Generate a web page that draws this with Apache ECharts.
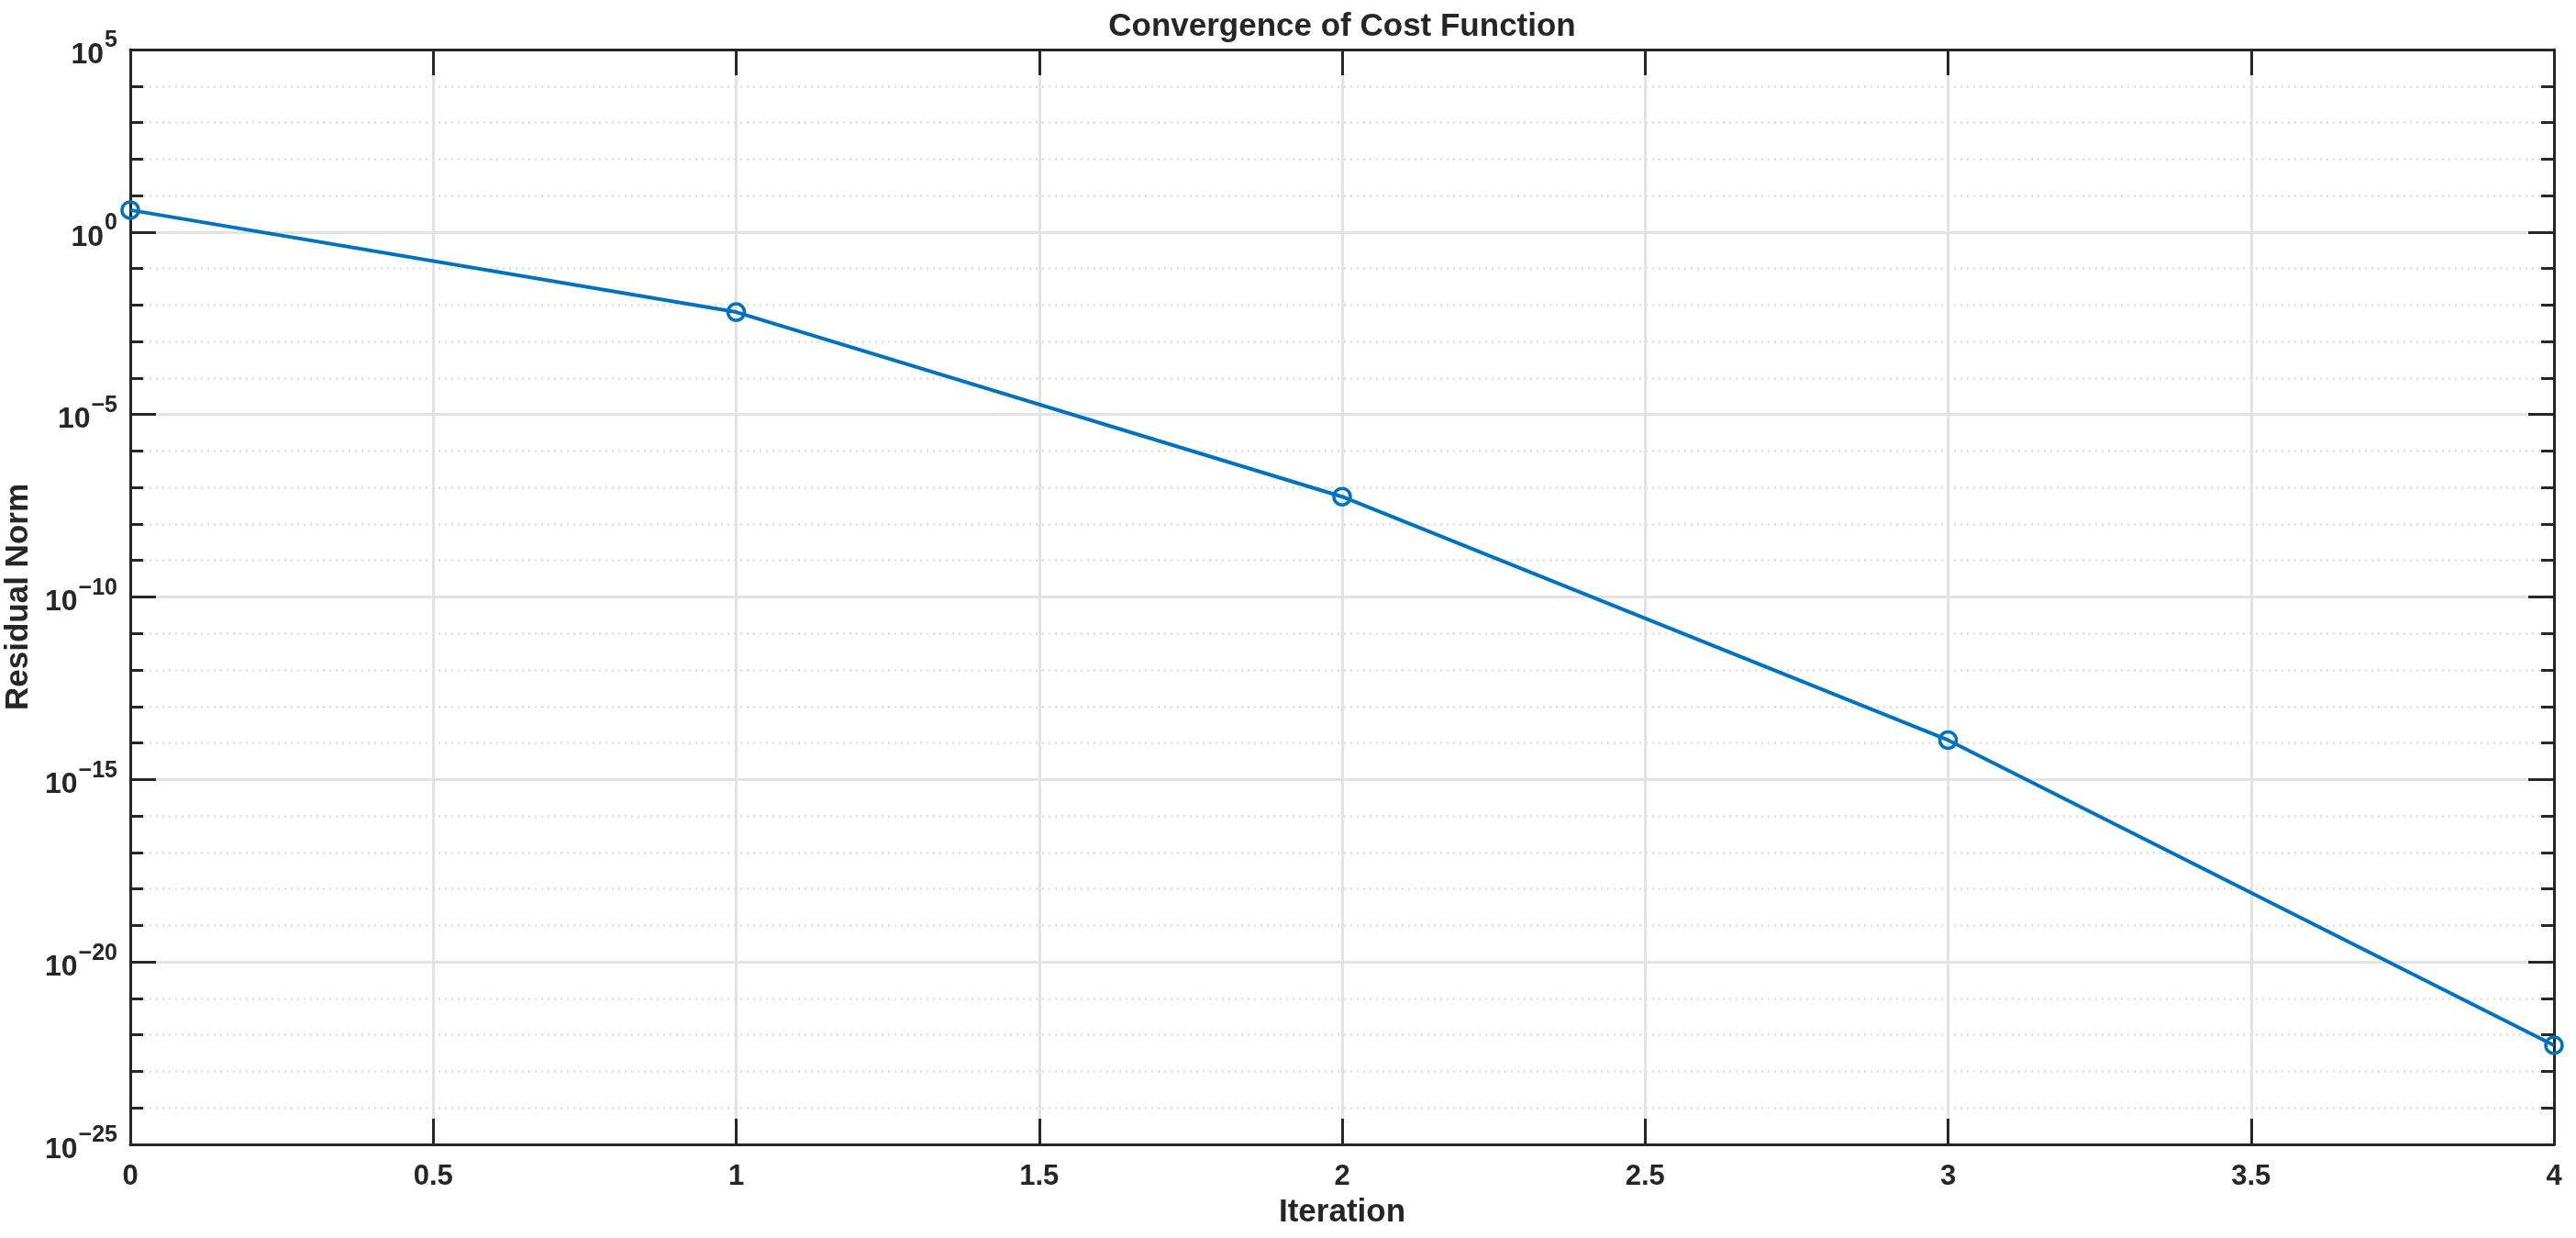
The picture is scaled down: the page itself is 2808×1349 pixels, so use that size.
<!DOCTYPE html>
<html>
<head>
<meta charset="utf-8">
<script src="https://cdn.jsdelivr.net/npm/echarts@6/dist/echarts.min.js"></script>
<style>
html,body{margin:0;padding:0;background:#fff;}
#chart{width:2808px;height:1349px;}
</style>
</head>
<body>
<div id="chart"></div>
<script>
// ---- data ----
const iterations = [0, 1, 2, 3, 4];
const residualNorm = [4.0, 6.4e-3, 5.6e-8, 1.2e-14, 5.2e-23];
const yTickExponents = [-25, -20, -15, -10, -5, 0, 5];
const xTickLabels = ['0', '0.5', '1', '1.5', '2', '2.5', '3', '3.5', '4'];
const titleText = 'Convergence of Cost Function';
const xLabel = 'Iteration';
const yLabel = 'Residual Norm';

// ---- styles ----
const FONT = '"Liberation Sans", Arial, Helvetica, sans-serif';
const TXT = '#262626';
const GRID = '#e3e3e3';
const MINOR = '#dcdcdc';
const BLUE = '#0072BD';

const seriesData = iterations.map((x, i) => [x, Math.log10(residualNorm[i])]);

function powLabel(v) {
  const e = Math.round(v);
  const s = (e < 0 ? '\u2212' + (-e) : '' + e);
  return '{b|10}{s|' + s + '}';
}

const chart = echarts.init(document.getElementById('chart'), null, {renderer: 'canvas'});

const yCommon = {
  type: 'value', min: yTickExponents[0], max: yTickExponents[yTickExponents.length - 1], interval: 5,
  axisLine: {show: true, onZero: false, lineStyle: {color: TXT, width: 3}},
  axisTick: {show: true, inside: true, length: 28, lineStyle: {color: TXT, width: 3}},
  minorTick: {show: true, splitNumber: 5, length: 14, lineStyle: {color: TXT, width: 3}}
};
const xCommon = {
  type: 'value', min: 0, max: 4, interval: 0.5,
  axisLine: {show: true, onZero: false, lineStyle: {color: TXT, width: 3}},
  axisTick: {show: true, inside: true, length: 28, lineStyle: {color: TXT, width: 3}}
};

chart.setOption({
  backgroundColor: '#ffffff',
  animation: false,
  grid: {left: 142, right: 24, top: 54, bottom: 102, containLabel: false, outerBoundsMode: 'none'},
  xAxis: [
    Object.assign({}, xCommon, {
      position: 'bottom',
      name: xLabel, nameLocation: 'middle', nameGap: 57,
      nameTextStyle: {color: TXT, fontFamily: FONT, fontWeight: 'bold', fontSize: 35},
      axisLabel: {show: true, margin: 20, color: TXT, fontFamily: FONT, fontWeight: 'bold', fontSize: 31,
        formatter: function (v) { return xTickLabels[Math.round(v / 0.5)]; }},
      splitLine: {show: true, lineStyle: {color: GRID, width: 3}}
    }),
    Object.assign({}, xCommon, {
      position: 'top',
      name: titleText, nameLocation: 'middle', nameGap: 7,
      nameTextStyle: {color: TXT, fontFamily: FONT, fontWeight: 'bold', fontSize: 35, verticalAlign: 'bottom'},
      axisLabel: {show: false},
      splitLine: {show: false}
    })
  ],
  yAxis: [
    Object.assign({}, yCommon, {
      position: 'left',
      name: yLabel, nameLocation: 'middle', nameGap: 93, nameRotate: 90,
      nameTextStyle: {color: TXT, fontFamily: FONT, fontWeight: 'bold', fontSize: 35},
      axisLabel: {show: true, margin: 14, color: TXT, fontFamily: FONT, fontWeight: 'bold',
        formatter: powLabel,
        rich: {
          b: {fontSize: 32, fontFamily: FONT, fontWeight: 'bold', color: TXT, lineHeight: 44, verticalAlign: 'bottom'},
          s: {fontSize: 25, fontFamily: FONT, fontWeight: 'bold', color: TXT, lineHeight: 44, verticalAlign: 'top', padding: [0, 0, 0, 1]}
        }},
      splitLine: {show: true, lineStyle: {color: GRID, width: 3}},
      minorSplitLine: {show: true, lineStyle: {color: MINOR, width: 2.5, type: [2, 5]}}
    }),
    Object.assign({}, yCommon, {
      position: 'right',
      axisLabel: {show: false},
      splitLine: {show: false},
      minorSplitLine: {show: false}
    })
  ],
  series: [{
    type: 'line',
    xAxisIndex: 0, yAxisIndex: 0,
    data: seriesData,
    clip: false,
    symbol: 'circle',
    symbolSize: 18,
    showSymbol: true,
    lineStyle: {color: BLUE, width: 4},
    itemStyle: {color: 'rgba(0,0,0,0)', borderColor: BLUE, borderWidth: 3.5},
    z: 5
  }]
});
</script>
</body>
</html>
